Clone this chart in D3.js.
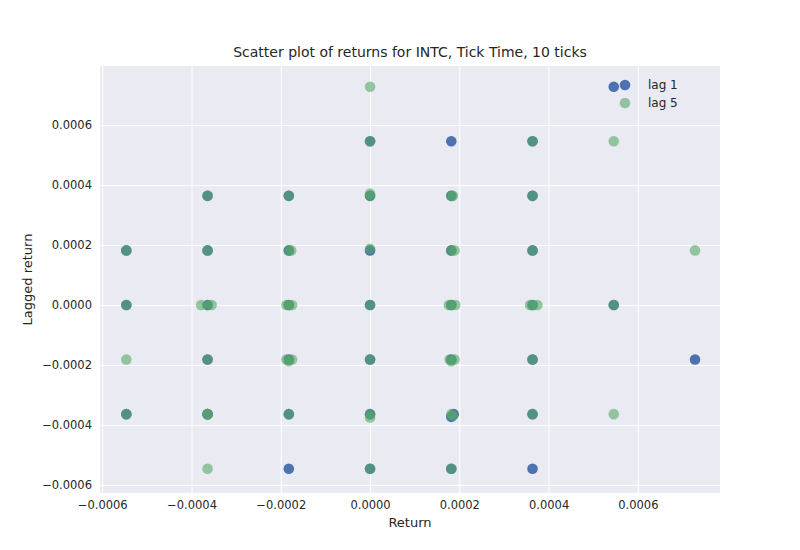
<!DOCTYPE html>
<html><head><meta charset="utf-8">
<script src="https://cdn.jsdelivr.net/npm/d3@7"></script>
<style>body{margin:0;background:#fff}text{font-family:"DejaVu Sans",sans-serif;fill:#262626}</style>
</head><body><div id="chart"></div>
<script>
// tick-sized returns (about 0.000182 per tick)
const t = 0.000182;
const lag1X = [3*t, 1*t, 4*t, 1*t, -1*t, 2*t, 0, 2*t, -3*t, -3*t, 3*t, -3*t, -2*t, 0, 1*t,
  -2*t, -1*t, 0, 1*t, 2*t, -2*t, -1*t, 0, 1*t, 2*t, -2*t, -1*t, 0, 1*t, 2*t, -2*t, -1*t, 0, 1*t, 2*t, -2*t, -1*t, 0, 1.03*t, 2*t];
const lag1Y = [4*t, 3*t, -1*t, -2.05*t, -3*t, -3*t, 3*t, 3*t, 1*t, 0, 0, -2*t, -2*t, -3*t, -3*t,
  2*t, 2*t, 2*t, 2*t, 2*t, 1*t, 1*t, 1*t, 1*t, 1*t, 0, 0, 0, 0, 0, -1*t, -1*t, -1*t, -1*t, -1*t, -2*t, -2*t, -2*t, -2*t, -2*t];
const lag5X = [0, 3*t, 4*t, -3*t, 3*t, -2*t, 0, 2*t, -3*t, -3*t, 3*t, -3*t, -2*t, 0, 1*t,
  -2*t, -1*t, 0, 0, 1*t, 1.02*t, 2*t, -2*t, -1*t, -0.97*t, 0, 1*t, 1.04*t, 2*t,
  -2.08*t, -2*t, -1.95*t, -1.03*t, -1*t, -0.96*t, 0, 0.97*t, 1*t, 1.05*t, 1.97*t, 2*t, 2.06*t,
  -2*t, -1.03*t, -1*t, -0.96*t, 0, 0.98*t, 1*t, 1.04*t, 2*t,
  -2*t, -1*t, 0, 0, 1*t, 1.02*t, 2*t];
const lag5Y = [4*t, 3*t, 1*t, -1*t, -2*t, -3*t, 3*t, 3*t, 1*t, 0, 0, -2*t, -2*t, -3*t, -3*t,
  2*t, 2*t, 2*t, 2.04*t, 2*t, 2*t, 2*t, 1*t, 1*t, 1*t, 1.03*t, 1*t, 1*t, 1*t,
  0, 0, 0, 0, 0, 0, 0, 0, 0, 0, 0, 0, 0,
  -1*t, -1*t, -1.03*t, -1*t, -1*t, -1*t, -1.03*t, -1*t, -1*t,
  -2*t, -2*t, -2*t, -2.06*t, -2*t, -2.03*t, -2*t];
const xTicks = [-0.0006, -0.0004, -0.0002, 0, 0.0002, 0.0004, 0.0006];
const yTicks = [-0.0006, -0.0004, -0.0002, 0, 0.0002, 0.0004, 0.0006];
const series = [
  { name: 'lag 1', xs: lag1X, ys: lag1Y, color: '#4c72b0', op: 1 },
  { name: 'lag 5', xs: lag5X, ys: lag5Y, color: '#55a868', op: 0.6 }
];

const W = 800, H = 550, L = 100, R = 720, T = 66, B = 493;
const x = d3.scaleLinear().domain([-0.000605, 0.000784]).range([L, R]);
const y = d3.scaleLinear().domain([-0.000627, 0.000797]).range([B, T]);

const svg = d3.select('#chart').append('svg').attr('width', W).attr('height', H);
svg.append('rect').attr('x', L).attr('y', T).attr('width', R - L).attr('height', B - T).attr('fill', '#eaeaf2');

const fmt = (d) => (d === 0 ? '0.0000' : d3.format('.4f')(d).replace('-', '\u2212'));
svg.append('g').attr('transform', `translate(0,${B})`)
  .call(d3.axisBottom(x).tickValues(xTicks).tickFormat(fmt).tickSize(-(B - T)).tickPadding(8))
  .call((g) => {
    g.select('.domain').remove();
    g.selectAll('line').attr('stroke', '#fff').attr('stroke-width', 1);
    g.selectAll('text').style('font-size', '11.5px').attr('fill', '#262626');
  });
svg.append('g').attr('transform', `translate(${L},0)`)
  .call(d3.axisLeft(y).tickValues(yTicks).tickFormat(fmt).tickSize(-(R - L)).tickPadding(8))
  .call((g) => {
    g.select('.domain').remove();
    g.selectAll('line').attr('stroke', '#fff').attr('stroke-width', 1);
    g.selectAll('text').style('font-size', '11.5px').attr('fill', '#262626');
  });

series.forEach((s) => {
  svg.append('g').selectAll('circle')
    .data(s.xs.map((v, i) => [v, s.ys[i]]))
    .join('circle')
    .attr('cx', (d) => x(d[0]))
    .attr('cy', (d) => y(d[1]))
    .attr('r', 5.3)
    .attr('fill', s.color)
    .attr('fill-opacity', s.op);
});

svg.append('text').attr('x', (L + R) / 2).attr('y', 57).attr('text-anchor', 'middle')
  .style('font-size', '14px').text('Scatter plot of returns for INTC, Tick Time, 10 ticks');
svg.append('text').attr('x', (L + R) / 2).attr('y', 527).attr('text-anchor', 'middle')
  .style('font-size', '13px').text('Return');
svg.append('text').attr('transform', `translate(32,${(T + B) / 2}) rotate(-90)`).attr('text-anchor', 'middle')
  .style('font-size', '13px').text('Lagged return');

const leg = svg.append('g');
series.forEach((s, i) => {
  leg.append('circle').attr('cx', 625).attr('cy', 85 + i * 18).attr('r', 5.3)
    .attr('fill', s.color).attr('fill-opacity', s.op);
  leg.append('text').attr('x', 648).attr('y', 89 + i * 18).style('font-size', '12px').text(s.name);
});
</script></body></html>
